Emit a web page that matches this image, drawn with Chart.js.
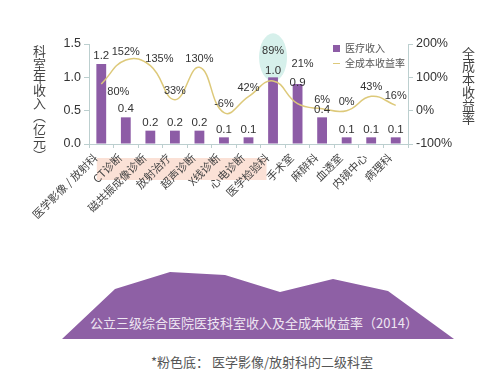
<!DOCTYPE html>
<html lang="zh">
<head>
<meta charset="UTF-8">
<title>医技科室收入及全成本收益率</title>
<script src="https://cdn.jsdelivr.net/npm/chart.js"></script>
<style>
    body {
        margin: 0;
        background: #ffffff;
        width: 500px;
        height: 372px;
        position: relative;
        overflow: hidden;
        font-family: "Noto Sans CJK SC", "Liberation Sans", sans-serif;
    }
    #chart {
        position: absolute;
        left: 0;
        top: 0;
    }
    .vtitle {
        position: absolute;
        writing-mode: vertical-rl;
        text-orientation: upright;
        color: #444;
        font-size: 13px;
        line-height: 1;
    }
    #legend {
        position: absolute;
        left: 333px;
        top: 40px;
        font-size: 10px;
        color: #555;
        line-height: 15px;
    }
    #legend .sw {
        display: inline-block;
        width: 7px;
        height: 7px;
        background: #8d5ca6;
        margin-right: 5px;
        vertical-align: 0px;
    }
    #legend .ln {
        display: inline-block;
        width: 7px;
        height: 1.5px;
        background: #ddc97a;
        margin-right: 5px;
        vertical-align: 3px;
    }
    #mountain {
        position: absolute;
        left: 62px;
        top: 272px;
        width: 392px;
        height: 67px;
        background: #8e60a5;
        clip-path: polygon(0px 67px, 53px 17px, 108px 0px, 163px 3px, 218px 20px, 271px 7px, 326px 19px, 392px 67px);
    }
    #caption {
        position: absolute;
        left: 0;
        width: 508px;
        top: 313px;
        text-align: center;
        color: #eee6f2;
        font-size: 13px;
    }
    #note {
        position: absolute;
        left: 0;
        width: 524px;
        top: 352px;
        text-align: center;
        color: #555;
        font-size: 13px;
    }
</style>
</head>
<body>
<canvas id="chart" width="500" height="250"></canvas>
<div class="vtitle" style="left:33px; top:45px;">科室年收入︵亿元︶</div>
<div class="vtitle" style="left:462px; top:47px;">全成本收益率</div>
<div id="legend">
    <div><span class="sw"></span>医疗收入</div>
    <div><span class="ln"></span>全成本收益率</div>
</div>
<div id="mountain"></div>
<div id="caption">公立三级综合医院医技科室收入及全成本收益率（2014）</div>
<div id="note">*粉色底： 医学影像/放射科的二级科室</div>

<script>
const departments = ["医学影像 / 放射科", "CT诊断", "磁共振成像诊断", "放射治疗", "超声诊断", "X线诊断", "心电诊断",
    "医学检验科", "手术室", "麻醉科", "血透室", "内镜中心", "病理科"];
const income = [1.2, 0.4, 0.2, 0.2, 0.2, 0.1, 0.1, 1.0, 0.9, 0.4, 0.1, 0.1, 0.1];   // 亿元
const returnRate = [80, 152, 135, 33, 130, -6, 42, 89, 21, 6, 0, 43, 16];          // %
const incomeTicks = [0, 0.5, 1.0, 1.5];
const rateTicks = [-100, 0, 100, 200];

// label nudges (px) so the value texts sit where they do in the original
const barLabelDy = [-8, -9, -8, -8, -8, -8, -8, -7, -1, -8, -8, -8, -8];
const rateLabelShift = [[17, 8], [0, -8], [9, -7], [0, -9], [0, -8], [0, -9], [0, -9],
    [0, -30], [5, -40], [0, -9], [0, -9], [0, -9], [0, -9]];

const purple = '#8d5ca6';
const gold = '#ddc97a';
const axisColor = '#bccfcf';

// pink band under the imaging sub-departments + teal ellipse around 医学检验科
const decorations = {
    id: 'decorations',
    beforeDraw(chart) {
        const ctx = chart.ctx;
        const x = chart.scales.x;
        ctx.save();
        ctx.fillStyle = '#fbe1d6';
        const left = x.getPixelForValue(1) - 29;
        const right = x.getPixelForValue(6) + 18;
        ctx.fillRect(left, x.top + 14, right - left, 22);
        ctx.restore();
    },
    beforeDatasetsDraw(chart) {
        const ctx = chart.ctx;
        const x = chart.scales.x;
        const y = chart.scales.y;
        ctx.save();
        ctx.fillStyle = '#d6f0eb';
        ctx.beginPath();
        ctx.ellipse(x.getPixelForValue(7), y.getPixelForValue(1.0) - 20, 14, 24, 0, 0, Math.PI * 2);
        ctx.fill();
        ctx.restore();
    },
    afterDatasetsDraw(chart) {
        const ctx = chart.ctx;
        ctx.save();
        ctx.fillStyle = '#333';
        ctx.textAlign = 'center';
        ctx.textBaseline = 'middle';
        ctx.font = '11.5px "Liberation Sans", Arial, sans-serif';
        chart.getDatasetMeta(1).data.forEach((el, i) => {
            ctx.fillText(income[i].toFixed(1), el.x, el.y + barLabelDy[i]);
        });
        ctx.font = '11px "Liberation Sans", Arial, sans-serif';
        chart.getDatasetMeta(0).data.forEach((el, i) => {
            ctx.fillText(returnRate[i] + '%', el.x + rateLabelShift[i][0], el.y + rateLabelShift[i][1]);
        });
        ctx.restore();
    }
};

new Chart(document.getElementById('chart'), {
    data: {
        labels: departments,
        datasets: [{
            type: 'line',
            label: '全成本收益率',
            data: returnRate,
            yAxisID: 'y2',
            borderColor: gold,
            borderWidth: 1.5,
            pointRadius: 0,
            tension: 0.45,
            fill: false,
            order: 0
        }, {
            type: 'bar',
            label: '医疗收入',
            data: income,
            yAxisID: 'y',
            backgroundColor: purple,
            barPercentage: 0.8,
            categoryPercentage: 0.5,
            order: 1
        }]
    },
    options: {
        responsive: false,
        animation: false,
        layout: { padding: { top: 44, left: 0, right: 0, bottom: 0 } },
        plugins: {
            legend: { display: false },
            tooltip: { enabled: false }
        },
        scales: {
            x: {
                offset: true,
                grid: { offset: true, drawOnChartArea: false, color: axisColor, tickLength: 4 },
                border: { color: axisColor },
                ticks: {
                    autoSkip: false,
                    minRotation: 45,
                    maxRotation: 45,
                    labelOffset: -6,
                    color: '#444',
                    font: { family: '"Noto Sans CJK SC"', size: 11 }
                },
                afterFit(scale) { scale.height = 106; }
            },
            y: {
                position: 'left',
                min: 0,
                max: 1.5,
                afterBuildTicks(scale) { scale.ticks = incomeTicks.map(v => ({ value: v })); },
                grid: { drawOnChartArea: false, color: axisColor, tickLength: 5 },
                border: { color: axisColor },
                ticks: {
                    padding: 3,
                    color: '#333',
                    font: { family: '"Liberation Sans", Arial', size: 12.5 },
                    callback: v => v.toFixed(1)
                },
                afterFit(scale) { scale.width = 89; }
            },
            y2: {
                position: 'right',
                min: -100,
                max: 200,
                afterBuildTicks(scale) { scale.ticks = rateTicks.map(v => ({ value: v })); },
                grid: { drawOnChartArea: false, color: axisColor, tickLength: 5 },
                border: { color: axisColor },
                ticks: {
                    padding: 3,
                    color: '#333',
                    font: { family: '"Liberation Sans", Arial', size: 12.5 },
                    callback: v => v + '%'
                },
                afterFit(scale) { scale.width = 92; }
            }
        }
    },
    plugins: [decorations]
});
</script>
</body>
</html>
